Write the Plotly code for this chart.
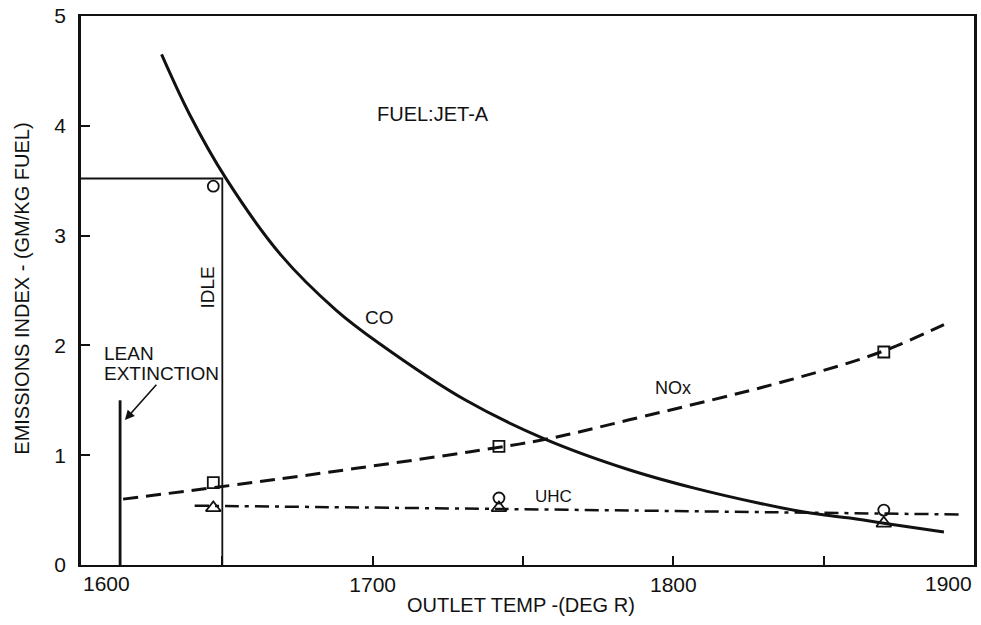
import plotly.graph_objects as go

# ---- data ----
co_x = [1629.8, 1639, 1651, 1669.6, 1687.9, 1702.1, 1731, 1757.5, 1785, 1807, 1829, 1844, 1858, 1870, 1890]
co_y = [4.65, 4.11, 3.53, 2.82, 2.32, 2.02, 1.50, 1.145, 0.87, 0.70, 0.56, 0.48, 0.43, 0.38, 0.30]

nox_x = [1617, 1668, 1732, 1757.5, 1785, 1838, 1869, 1890]
nox_y = [0.60, 0.78, 1.03, 1.145, 1.32, 1.68, 1.94, 2.19]

uhc_x = [1640.8, 1742.5, 1834.7, 1895]
uhc_y = [0.54, 0.51, 0.48, 0.46]

pt_x = [1647, 1742, 1870]
co_pts = [3.45, 0.61, 0.50]
nox_pts = [0.75, 1.08, 1.94]
uhc_pts = [0.52, 0.52, 0.38]

idle_x = 1650
idle_y = 3.52
lean_x = 1616
lean_top = 1.5

x_range = [1603, 1900]
y_range = [0, 5]
x_tick_vals = [1700, 1800]
x_tick_text = ["1700", "1800"]
x_minor_vals = [1650, 1750, 1850]
x_end_labels = ["1600", "1900"]
y_tick_vals = [0, 1, 2, 3, 4, 5]
y_tick_text = ["0", "1", "2", "3", "4", "5"]

FONT = "Liberation Sans, Arial, sans-serif"
INK = "#111111"

fig = go.Figure()

# idle / lean extinction reference lines
fig.add_trace(go.Scatter(x=[x_range[0], idle_x, idle_x], y=[idle_y, idle_y, -0.06],
                         mode="lines", line=dict(color=INK, width=1.8),
                         cliponaxis=False, showlegend=False, hoverinfo="skip"))
fig.add_trace(go.Scatter(x=[lean_x, lean_x], y=[0, lean_top], mode="lines",
                         line=dict(color=INK, width=2.8), showlegend=False, hoverinfo="skip"))

# curves
fig.add_trace(go.Scatter(x=co_x, y=co_y, mode="lines",
                         line=dict(color=INK, width=3, shape="spline", smoothing=1.0),
                         name="CO", showlegend=False))
fig.add_trace(go.Scatter(x=nox_x, y=nox_y, mode="lines",
                         line=dict(color=INK, width=3, dash="15px,8px", shape="spline", smoothing=1.0),
                         name="NOx", showlegend=False))
fig.add_trace(go.Scatter(x=uhc_x, y=uhc_y, mode="lines",
                         line=dict(color=INK, width=2.5, dash="14px,6px,4px,6px", shape="spline", smoothing=1.0),
                         name="UHC", showlegend=False))

# data points
fig.add_trace(go.Scatter(x=pt_x, y=co_pts, mode="markers",
                         marker=dict(symbol="circle-open", size=11, color=INK, line=dict(width=1.8)),
                         showlegend=False, cliponaxis=False))
fig.add_trace(go.Scatter(x=pt_x, y=nox_pts, mode="markers",
                         marker=dict(symbol="square-open", size=11, color=INK, line=dict(width=1.8)),
                         showlegend=False, cliponaxis=False))
fig.add_trace(go.Scatter(x=pt_x, y=uhc_pts, mode="markers",
                         marker=dict(symbol="triangle-up-open", size=13, color=INK, line=dict(width=1.8)),
                         showlegend=False, cliponaxis=False))

def txt(x, y, s, size=19, **kw):
    fig.add_annotation(x=x, y=y, text=s, showarrow=False,
                       font=dict(family=FONT, size=size, color=INK), **kw)

txt(1720, 4.11, "FUEL:JET-A", size=20)
txt(1702.4, 2.25, "CO", size=19)
txt(1800, 1.61, "NOx", size=18)
txt(1760, 0.62, "UHC", size=17)
txt(1645, 2.53, "IDLE", size=19, textangle=-90)
txt(1610, 1.93, "LEAN", size=19, xanchor="left")
txt(1610, 1.745, "EXTINCTION", size=19, xanchor="left")

# arrow to lean extinction line
fig.add_annotation(x=1617.6, y=1.32, ax=1628.5, ay=1.655, axref="x", ayref="y",
                   showarrow=True, arrowhead=2, arrowsize=1.2, arrowwidth=1.6, arrowcolor=INK, text="")

# end tick labels of the x axis
fig.add_annotation(xref="x domain", yref="paper", x=0, y=0, xanchor="left", yanchor="middle", yshift=-18,
                   text=x_end_labels[0], showarrow=False, font=dict(family=FONT, size=21, color=INK))
fig.add_annotation(xref="x domain", yref="paper", x=1, y=0, xanchor="right", yanchor="middle", yshift=-18,
                   text=x_end_labels[1], showarrow=False, font=dict(family=FONT, size=21, color=INK))

# axis titles
fig.add_annotation(xref="paper", yref="paper", x=-0.067, y=0.5036, xanchor="center", yanchor="middle",
                   text="EMISSIONS INDEX - (GM/KG FUEL)",
                   textangle=-90, showarrow=False, font=dict(family=FONT, size=20, color=INK))
fig.add_annotation(xref="paper", yref="paper", x=0.493, y=-0.0727, xanchor="center", yanchor="middle",
                   text="OUTLET TEMP -(DEG R)",
                   showarrow=False, font=dict(family=FONT, size=20, color=INK))

fig.update_layout(
    width=981, height=625,
    margin=dict(l=81, r=4, t=15, b=60),
    paper_bgcolor="white", plot_bgcolor="white",
    font=dict(family=FONT, color=INK),
    showlegend=False,
)
fig.update_xaxes(range=x_range, showgrid=False, zeroline=False,
                 showline=True, linecolor=INK, linewidth=2, mirror=True,
                 tickmode="array", tickvals=x_tick_vals, ticktext=x_tick_text,
                 ticks="inside", ticklen=9, tickwidth=2, tickcolor=INK,
                 tickfont=dict(family=FONT, size=21, color=INK), ticklabelstandoff=0,
                 minor=dict(tickmode="array", tickvals=x_minor_vals, ticks="inside",
                            ticklen=9, tickwidth=1.5, tickcolor=INK, showgrid=False))
fig.update_yaxes(range=y_range, showgrid=False, zeroline=False,
                 showline=True, linecolor=INK, linewidth=2.5, mirror=True,
                 tickmode="array", tickvals=y_tick_vals, ticktext=y_tick_text,
                 ticks="inside", ticklen=9, tickwidth=2, tickcolor=INK,
                 tickfont=dict(family=FONT, size=21, color=INK), ticklabelstandoff=8)

fig.write_html("out.html")
